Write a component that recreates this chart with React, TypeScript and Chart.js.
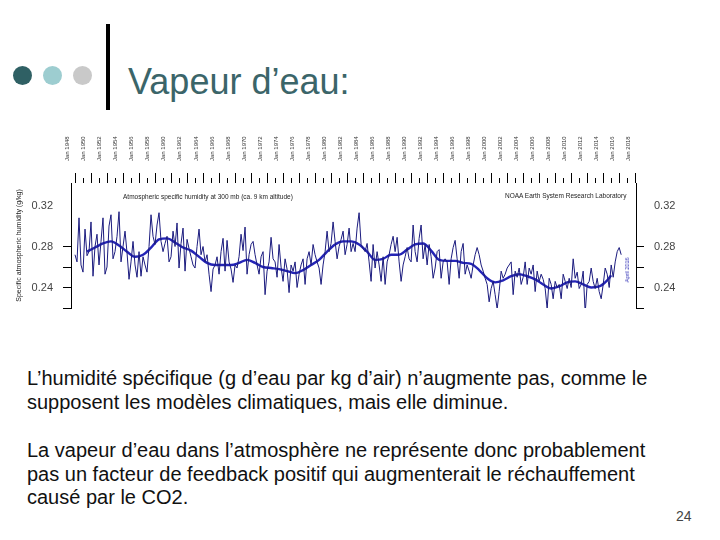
import React, { useEffect, useRef } from "react";
import { Chart, registerables } from "chart.js";

Chart.register(...registerables);

// ---------- data ----------
const xMajorYears = [
  1948, 1950, 1952, 1954, 1956, 1958, 1960, 1962, 1964, 1966, 1968, 1970,
  1972, 1974, 1976, 1978, 1980, 1982, 1984, 1986, 1988, 1990, 1992, 1994,
  1996, 1998, 2000, 2002, 2004, 2006, 2008, 2010, 2012, 2014, 2016, 2018,
];
const xMinorYears = [
  1949, 1951, 1953, 1955, 1957, 1959, 1961, 1963, 1965, 1967, 1969, 1971,
  1973, 1975, 1977, 1979, 1981, 1983, 1985, 1987, 1989, 1991, 1993, 1995,
  1997, 1999, 2001, 2003, 2005, 2007, 2009, 2011, 2013, 2015, 2017,
];
const yTickValues = [0.22, 0.24, 0.26, 0.28, 0.32];
const yLabelValues = ["0.24", "0.28", "0.32"];

// quarterly readings, starting Jan 1948
const noisyStartYear = 1948;
const noisyStep = 0.25;
const noisyValues = [
  0.272, 0.265, 0.308, 0.262, // 1948
  0.255, 0.297, 0.271, 0.275, // 1949
  0.304, 0.251, 0.280, 0.292, // 1950
  0.262, 0.285, 0.308, 0.253, // 1951
  0.260, 0.300, 0.311, 0.268, // 1952
  0.275, 0.290, 0.314, 0.265, // 1953
  0.280, 0.295, 0.274, 0.248, // 1954
  0.265, 0.285, 0.262, 0.250, // 1955
  0.275, 0.251, 0.270, 0.262, // 1956
  0.255, 0.280, 0.311, 0.290, // 1957
  0.282, 0.301, 0.313, 0.285, // 1958
  0.275, 0.283, 0.290, 0.265, // 1959
  0.270, 0.295, 0.280, 0.303, // 1960
  0.259, 0.283, 0.298, 0.256, // 1961
  0.287, 0.278, 0.270, 0.262, // 1962
  0.259, 0.280, 0.297, 0.272, // 1963
  0.280, 0.265, 0.272, 0.253, // 1964
  0.236, 0.258, 0.262, 0.270, // 1965
  0.253, 0.275, 0.288, 0.256, // 1966
  0.286, 0.265, 0.258, 0.245, // 1967
  0.262, 0.259, 0.270, 0.292, // 1968
  0.276, 0.299, 0.253, 0.272, // 1969
  0.282, 0.285, 0.272, 0.262, // 1970
  0.253, 0.270, 0.275, 0.233, // 1971
  0.256, 0.265, 0.289, 0.268, // 1972
  0.265, 0.250, 0.282, 0.260, // 1973
  0.246, 0.268, 0.258, 0.235, // 1974
  0.262, 0.256, 0.265, 0.240, // 1975
  0.253, 0.262, 0.268, 0.243, // 1976
  0.268, 0.275, 0.262, 0.282, // 1977
  0.272, 0.265, 0.259, 0.243, // 1978
  0.262, 0.275, 0.295, 0.275, // 1979
  0.283, 0.304, 0.285, 0.268, // 1980
  0.280, 0.287, 0.295, 0.272, // 1981
  0.282, 0.298, 0.275, 0.283, // 1982
  0.275, 0.298, 0.313, 0.282, // 1983
  0.278, 0.275, 0.283, 0.265, // 1984
  0.246, 0.282, 0.259, 0.275, // 1985
  0.262, 0.246, 0.270, 0.243, // 1986
  0.265, 0.272, 0.282, 0.290, // 1987
  0.275, 0.289, 0.265, 0.246, // 1988
  0.262, 0.270, 0.279, 0.268, // 1989
  0.265, 0.301, 0.275, 0.265, // 1990
  0.288, 0.301, 0.268, 0.282, // 1991
  0.262, 0.282, 0.270, 0.249, // 1992
  0.259, 0.275, 0.277, 0.249, // 1993
  0.265, 0.268, 0.265, 0.243, // 1994
  0.268, 0.279, 0.286, 0.268, // 1995
  0.249, 0.275, 0.283, 0.253, // 1996
  0.262, 0.256, 0.249, 0.262, // 1997
  0.272, 0.279, 0.272, 0.262, // 1998
  0.256, 0.249, 0.243, 0.226, // 1999
  0.239, 0.246, 0.233, 0.219, // 2000
  0.236, 0.256, 0.249, 0.253, // 2001
  0.259, 0.262, 0.265, 0.233, // 2002
  0.256, 0.250, 0.259, 0.243, // 2003
  0.250, 0.265, 0.243, 0.259, // 2004
  0.253, 0.262, 0.236, 0.256, // 2005
  0.246, 0.253, 0.248, 0.239, // 2006
  0.219, 0.249, 0.243, 0.229, // 2007
  0.246, 0.240, 0.243, 0.229, // 2008
  0.253, 0.246, 0.239, 0.249, // 2009
  0.240, 0.268, 0.249, 0.255, // 2010
  0.239, 0.243, 0.256, 0.215, // 2011
  0.243, 0.246, 0.259, 0.246, // 2012
  0.239, 0.249, 0.236, 0.229, // 2013
  0.243, 0.259, 0.253, 0.240, // 2014
  0.262, 0.250, 0.265, 0.275, // 2015
  0.279, 0.272, // 2016
];

const smoothYears = [
  1949.5, 1950.5, 1951.5, 1952.5, 1953.5, 1954.5, 1955.5, 1956.5, 1957.5,
  1958.5, 1959.5, 1960.5, 1961.5, 1962.5, 1963.5, 1964.5, 1965.5, 1966.5,
  1967.5, 1968.5, 1969.5, 1970.5, 1971.5, 1972.5, 1973.5, 1974.5, 1975.5,
  1976.5, 1977.5, 1978.5, 1979.5, 1980.5, 1981.5, 1982.5, 1983.5, 1984.5,
  1985.5, 1986.5, 1987.5, 1988.5, 1989.5, 1990.5, 1991.5, 1992.5, 1993.5,
  1994.5, 1995.5, 1996.5, 1997.5, 1998.5, 1999.5, 2000.5, 2001.5, 2002.5,
  2003.5, 2004.5, 2005.5, 2006.5, 2007.5, 2008.5, 2009.5, 2010.5, 2011.5,
  2012.5, 2013.5, 2014.5, 2015.0,
];
const smoothValues = [
  0.275, 0.279, 0.283, 0.285, 0.281, 0.275, 0.270, 0.272, 0.279,
  0.287, 0.288, 0.284, 0.279, 0.276, 0.270, 0.264, 0.262, 0.262,
  0.262, 0.264, 0.267, 0.264, 0.260, 0.259, 0.258, 0.256, 0.254,
  0.257, 0.262, 0.267, 0.275, 0.282, 0.285, 0.285, 0.282, 0.275,
  0.267, 0.268, 0.272, 0.272, 0.277, 0.282, 0.283, 0.276, 0.267,
  0.266, 0.266, 0.264, 0.263, 0.257, 0.249, 0.245, 0.247, 0.251,
  0.253, 0.251, 0.248, 0.243, 0.239, 0.241, 0.245, 0.246, 0.243,
  0.240, 0.241, 0.247, 0.252,
];

const FONT = '"Liberation Sans", Arial, Helvetica, sans-serif';

function HumidityChart() {
  const ref = useRef<HTMLCanvasElement>(null);
  useEffect(() => {
    if (!ref.current) return;
    const chart = new Chart(ref.current, {
      type: "line",
      data: {
        datasets: [
          {
            data: noisyValues.map((v, i) => ({ x: noisyStartYear + i * noisyStep, y: v })),
            borderColor: "#1b1b7e",
            borderWidth: 1,
            pointRadius: 0,
            tension: 0,
            xAxisID: "xTop",
            yAxisID: "y",
          },
          {
            data: smoothYears.map((x, i) => ({ x, y: smoothValues[i] })),
            borderColor: "#2424b6",
            borderWidth: 2.4,
            pointRadius: 0,
            cubicInterpolationMode: "monotone",
            xAxisID: "xTop",
            yAxisID: "y",
          },
        ],
      },
      options: {
        animation: false,
        responsive: false,
        events: [],
        layout: { padding: { left: 0, right: 0, top: 0, bottom: 17 } },
        plugins: { legend: { display: false }, tooltip: { enabled: false } },
        scales: {
          xTop: {
            type: "linear",
            axis: "x",
            position: "top",
            min: 1947.5,
            max: 2018.1,
            weight: 1,
            afterBuildTicks: (s: any) => {
              s.ticks = xMajorYears.map((v) => ({ value: v }));
            },
            afterFit: (s: any) => {
              s.height = 58;
            },
            ticks: {
              autoSkip: false,
              minRotation: 90,
              maxRotation: 90,
              padding: 12,
              color: "#333",
              font: { size: 6, family: FONT },
              callback: (v: any) => "Jan " + v,
            },
            grid: { drawOnChartArea: false, drawTicks: true, tickLength: 10, tickColor: "#000", tickWidth: 1 },
            border: { display: false },
          },
          xMinor: {
            type: "linear",
            axis: "x",
            position: "top",
            min: 1947.5,
            max: 2018.1,
            weight: 0,
            afterBuildTicks: (s: any) => {
              s.ticks = xMinorYears.map((v) => ({ value: v }));
            },
            afterFit: (s: any) => {
              s.height = 0;
            },
            ticks: { display: false },
            grid: { drawOnChartArea: false, drawTicks: true, tickLength: 5, tickColor: "#000", tickWidth: 1 },
            border: { display: false },
          },
          y: {
            type: "linear",
            position: "left",
            min: 0.22,
            max: 0.342,
            afterBuildTicks: (s: any) => {
              s.ticks = yTickValues.map((v) => ({ value: v }));
            },
            afterFit: (s: any) => {
              s.width = 61;
            },
            ticks: {
              padding: 10,
              color: "#444",
              font: { size: 11, family: FONT },
              callback: (v: any) => (yLabelValues.includes(Number(v).toFixed(2)) ? Number(v).toFixed(2) : ""),
            },
            grid: {
              drawOnChartArea: false,
              tickLength: 8,
              tickColor: (c: any) => (c.tick && c.tick.value > 0.3 ? "rgba(0,0,0,0)" : "#000"),
            },
            border: { display: true, color: "#000", width: 1 },
            title: {
              display: true,
              text: "Specific atmospheric humidity (g/kg)",
              color: "#222",
              font: { size: 7, family: FONT },
              padding: { top: 5, bottom: 0 },
            },
          },
          y2: {
            type: "linear",
            position: "right",
            min: 0.22,
            max: 0.342,
            afterBuildTicks: (s: any) => {
              s.ticks = yTickValues.map((v) => ({ value: v }));
            },
            afterFit: (s: any) => {
              s.width = 54;
            },
            ticks: {
              padding: 10,
              color: "#444",
              font: { size: 11, family: FONT },
              callback: (v: any) => (yLabelValues.includes(Number(v).toFixed(2)) ? Number(v).toFixed(2) : ""),
            },
            grid: {
              drawOnChartArea: false,
              tickLength: 8,
              tickColor: (c: any) => (c.tick && c.tick.value > 0.3 ? "rgba(0,0,0,0)" : "#000"),
            },
            border: { display: true, color: "#000", width: 1 },
          },
        },
      } as any,
    });
    return () => chart.destroy();
  }, []);
  return (
    <canvas
      ref={ref}
      width={680}
      height={200}
      style={{ position: "absolute", left: 10, top: 125, width: 680, height: 200 }}
    />
  );
}

const bodyLine = (top: number): React.CSSProperties => ({
  position: "absolute",
  left: 27,
  top,
  fontSize: 20,
  lineHeight: "24px",
  color: "#111",
  whiteSpace: "nowrap",
});

export default function App() {
  return (
    <div
      style={{
        position: "absolute",
        left: 0,
        top: 0,
        width: 720,
        height: 540,
        background: "#fff",
        overflow: "hidden",
        fontFamily: FONT,
      }}
    >
      <div style={{ position: "absolute", left: 12.5, top: 65.5, width: 19, height: 19, borderRadius: "50%", background: "#2f6064" }} />
      <div style={{ position: "absolute", left: 42.5, top: 65.5, width: 19, height: 19, borderRadius: "50%", background: "#9dcdd0" }} />
      <div style={{ position: "absolute", left: 72.5, top: 65.5, width: 19, height: 19, borderRadius: "50%", background: "#c9c9c9" }} />
      <div style={{ position: "absolute", left: 106, top: 24, width: 4, height: 86, background: "#000" }} />
      <div
        style={{
          position: "absolute",
          left: 128,
          top: 64,
          fontSize: 36,
          lineHeight: "36px",
          color: "#3b6569",
          whiteSpace: "nowrap",
        }}
      >
        Vapeur d’eau:
      </div>

      <HumidityChart />

      <div style={{ position: "absolute", left: 123, top: 193, fontSize: 6.5, lineHeight: "8px", color: "#222", whiteSpace: "nowrap" }}>
        Atmospheric specific humidity at 300 mb (ca. 9 km altitude)
      </div>
      <div style={{ position: "absolute", left: 505, top: 192, fontSize: 6.5, lineHeight: "8px", color: "#222", whiteSpace: "nowrap" }}>
        NOAA Earth System Research Laboratory
      </div>
      <div
        style={{
          position: "absolute",
          left: 627,
          top: 270,
          fontSize: 5.5,
          lineHeight: "6px",
          color: "#2a2ab4",
          whiteSpace: "nowrap",
          transform: "translate(-50%, -50%) rotate(-90deg)",
        }}
      >
        April 2016
      </div>

      <div style={bodyLine(366)}>L’humidité spécifique (g d’eau par kg d’air) n’augmente pas, comme le</div>
      <div style={bodyLine(390)}>supposent les modèles climatiques, mais elle diminue.</div>
      <div style={bodyLine(438)}>La vapeur d’eau dans l’atmosphère ne représente donc probablement</div>
      <div style={bodyLine(462)}>pas un facteur de feedback positif qui augmenterait le réchauffement</div>
      <div style={bodyLine(485)}>causé par le CO2.</div>

      <div style={{ position: "absolute", left: 676, top: 508, fontSize: 14, lineHeight: "16px", color: "#444" }}>24</div>
    </div>
  );
}
